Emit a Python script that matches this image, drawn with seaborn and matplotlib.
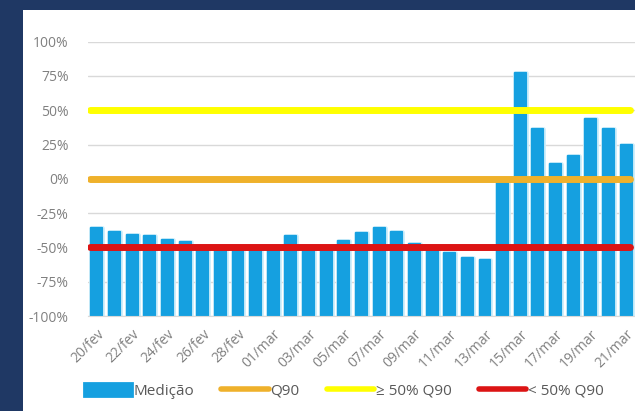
import numpy as np
import pandas as pd
import matplotlib
matplotlib.use("Agg")
import matplotlib.pyplot as plt
import matplotlib.patheffects as pe
import seaborn as sns
from matplotlib.lines import Line2D
from matplotlib.patches import Patch, Rectangle

# dados (percentual em relação ao Q90)
datas = ['20/fev', '21/fev', '22/fev', '23/fev', '24/fev', '25/fev', '26/fev', '27/fev',
         '28/fev', '29/fev', '01/mar', '02/mar', '03/mar', '04/mar', '05/mar', '06/mar',
         '07/mar', '08/mar', '09/mar', '10/mar', '11/mar', '12/mar', '13/mar', '14/mar',
         '15/mar', '16/mar', '17/mar', '18/mar', '19/mar', '20/mar', '21/mar']
medicao = [-36, -39, -41, -42, -44.5, -46, -51, -51, -51, -51, -51, -42, -51, -51, -45.5,
           -39.5, -36, -38.5, -47.5, -51, -54, -58, -59, -2, 77, 36, 11, 17, 44, 36, 25]
q90 = 0
acima_50 = 50
abaixo_50 = -50

azul = '#15A0E0'
laranja = '#EFB12B'
amarelo = '#FFFF00'
vermelho = '#DC1414'
cinza_txt = '#808080'

df = pd.DataFrame({'data': datas, 'altura': np.array(medicao) + 100})

sns.set_style('white')
plt.rcParams['font.family'] = ['Open Sans', 'DejaVu Sans']

fig = plt.figure(figsize=(6.35, 4.11), dpi=100)
fig.patch.set_facecolor('#1F3864')
fig.patches.append(Rectangle((23 / 635, 0), 1, 1 - 10 / 411, transform=fig.transFigure,
                             facecolor='white', edgecolor='none', zorder=-5))

ax = fig.add_axes([88 / 635, 1 - 316 / 411, 1 - 88 / 635, 274.3 / 411])
ax.set_facecolor('none')

# barras partem de -100%
sns.barplot(data=df, x='data', y='altura', bottom=-100, color=azul, saturation=1,
            width=0.62, ax=ax, zorder=2)
for p in ax.patches:
    p.set_edgecolor(azul)
    p.set_linewidth(1.5)
    p.set_joinstyle('round')
    p.set_path_effects([pe.withStroke(linewidth=3.5, foreground='#CDEEFB'), pe.Normal()])

ax.axhline(acima_50, xmin=0.003, xmax=0.99, color=amarelo, lw=5, solid_capstyle='round', zorder=3)
ax.axhline(q90, xmin=0.003, xmax=0.99, color=laranja, lw=5, solid_capstyle='round', zorder=3)
ax.axhline(abaixo_50, xmin=0.003, xmax=0.99, color=vermelho, lw=5, solid_capstyle='round', zorder=3)

ax.set_ylim(-100, 100)
ax.set_xlim(-0.49, 30.33)
ax.set_yticks(np.arange(-100, 101, 25))
ax.set_yticklabels([f'{v}%' for v in range(-100, 101, 25)])
ax.yaxis.grid(True, color='#D9D9D9', lw=1)
ax.set_axisbelow(True)

ax.set_xticks(range(0, len(datas), 2))
ax.set_xticklabels(datas[::2], rotation=45, ha='right', rotation_mode='anchor')
ax.set_xticks(np.arange(-0.5, len(datas), 1), minor=True)
ax.tick_params(axis='x', which='major', length=0, pad=8, labelsize=10, labelcolor=cinza_txt)
ax.tick_params(axis='x', which='minor', length=3, color='#D9D9D9', width=1)
ax.tick_params(axis='y', length=0, pad=14, labelsize=10, labelcolor=cinza_txt)
ax.set_xlabel('')
ax.set_ylabel('')

for s in ['top', 'right', 'left']:
    ax.spines[s].set_visible(False)
ax.spines['bottom'].set_color('#D9D9D9')
ax.spines['bottom'].set_zorder(4)

handles = [
    Patch(facecolor=azul, edgecolor=azul, linewidth=2, joinstyle='round'),
    Line2D([0], [0], color=laranja, lw=4, solid_capstyle='round'),
    Line2D([0], [0], color=amarelo, lw=4, solid_capstyle='round'),
    Line2D([0], [0], color=vermelho, lw=4, solid_capstyle='round'),
]
labels = ['Medição', 'Q90', '≥ 50% Q90', '< 50% Q90']
fig.legend(handles, labels, loc='center', bbox_to_anchor=(344 / 635, 1 - 391 / 411), ncol=4,
           frameon=False, fontsize=11, labelcolor='#595959', handlelength=3.1,
           handleheight=0.9, handletextpad=0.1, columnspacing=1.8)

fig.savefig('out.png', dpi=100, facecolor=fig.get_facecolor())
